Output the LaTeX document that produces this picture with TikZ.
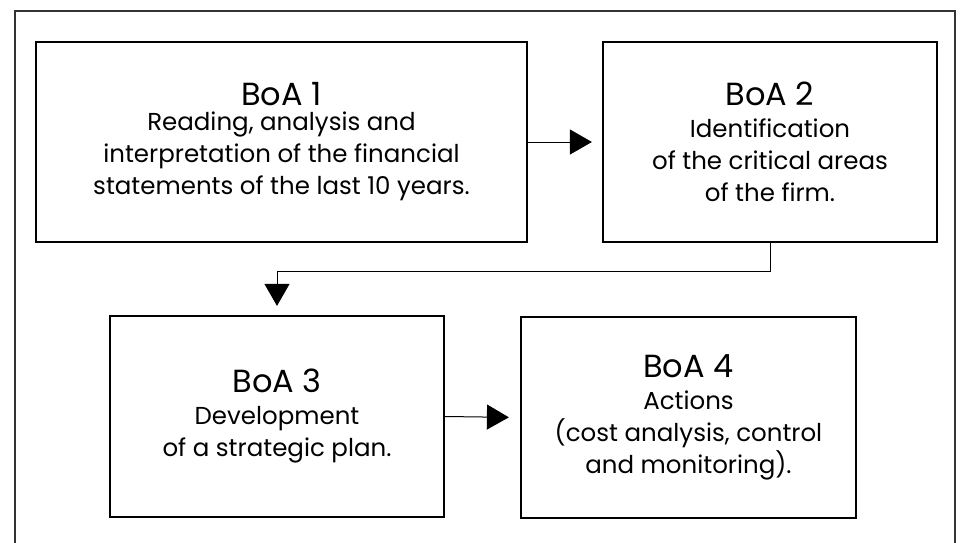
\documentclass[tikz,border=0pt]{standalone}
\usepackage{fontspec}
\setmainfont{Poppins}
\usetikzlibrary{arrows.meta}
\tikzset{
  boabox/.style={draw=black, line width=2.2pt, rectangle, inner sep=0pt, align=center,
    font=\fontsize{24.5}{32}\selectfont},
  conn/.style={draw=black, line width=1pt, -{Triangle[length=22pt,width=25pt]}},
  frame/.style={draw=black!80, line width=1.3pt}
}
\newcommand{\boatitle}[1]{{\fontsize{32}{32}\selectfont #1}}
\begin{document}
\begin{tikzpicture}[x=1pt,y=-1pt]
\useasboundingbox (0,0) rectangle (962,543);
\draw[frame] (15,545) -- (15,11) -- (955,11) -- (955,545);
\node[boabox, minimum width=491pt, minimum height=200pt] (b1) at (281.5,142)
  {\boatitle{BoA 1}\\[-7pt]Reading, analysis and\\interpretation of the financial\\statements of the last 10 years.};
\node[boabox, minimum width=334pt, minimum height=200pt] (b2) at (770,142)
  {\boatitle{BoA 2}\\Identification\\of the critical areas\\of the firm.};
\node[boabox, minimum width=334pt, minimum height=201pt] (b3) at (277,416.5)
  {\boatitle{BoA 3}\\Development\\of a strategic plan.};
\node[boabox, minimum width=335pt, minimum height=201pt] (b4) at (688.5,417.5)
  {\boatitle{BoA 4}\\Actions\\(cost analysis, control\\and monitoring).};
\coordinate (k) at (770,271.5);
\draw[conn, shorten >=10pt] (b1.east) -- (b2.west);
\draw[conn, shorten >=9pt] (b2.south) -- (k) -| (b3.north);
\draw[conn, shorten >=11pt] (b3.east) -- (b4.west);
\end{tikzpicture}
\end{document}
